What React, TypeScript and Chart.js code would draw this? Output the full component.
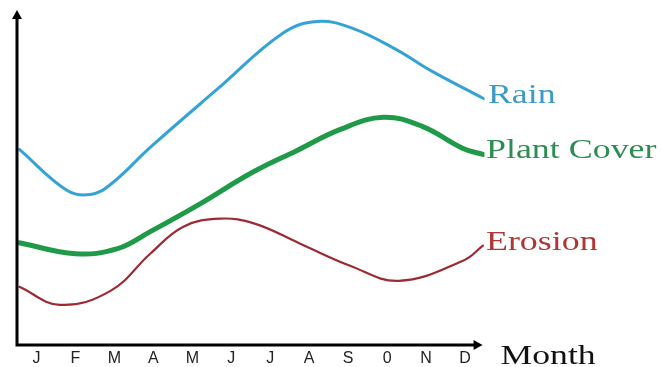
import React, { useEffect, useRef } from "react";
import { Chart, registerables } from "chart.js";

Chart.register(...registerables);

const months = ["J", "F", "M", "A", "M", "J", "J", "A", "S", "0", "N", "D"];

const rainX = [-0.44, 0.79, 1.38, 1.9, 2.92, 4.64, 6.33, 7.2, 8.1, 9.26, 10.1, 11.51];
const rainY = [195, 154, 150, 160, 197, 255, 311, 322.5, 316, 294, 274, 245];

const plantX = [-0.44, 1.0, 2.08, 2.92, 4.21, 5.49, 6.69, 7.8, 8.9, 9.9, 10.95, 11.46];
const plantY = [102, 91, 96, 113, 141, 171, 194, 215, 227, 218, 196, 190];

const erosionX = [-0.44, 0.6, 1.9, 2.92, 3.77, 4.72, 5.6, 6.77, 8.05, 9.3, 10.95, 11.46];
const erosionY = [58, 40, 54, 91, 118, 126, 121, 101, 79, 64, 84, 99];

const seriesNames = ["Rain", "Plant Cover", "Erosion"];
const lineColors = ["#35a3d5", "#1f9a48", "#9e2a33"];
const textColors = ["#3d9bca", "#2f8c52", "#b03636"];
const lineWidths = [3, 5, 2.2];

const toPts = (xs: number[], ys: number[]) => xs.map((x, i) => ({ x, y: ys[i] }));

const axesPlugin = {
  id: "axesArrows",
  afterDraw(chart: any) {
    const { ctx, chartArea } = chart;
    const xs = chart.scales.x;
    const left = xs.getPixelForValue(-0.5);
    const right = xs.getPixelForValue(11.45);
    const bottom = chartArea.bottom;
    const top = chartArea.top;
    ctx.save();
    ctx.strokeStyle = "#000";
    ctx.fillStyle = "#000";
    ctx.lineWidth = 3;
    ctx.beginPath();
    ctx.moveTo(left, bottom + 1.5);
    ctx.lineTo(left, top + 6);
    ctx.moveTo(left - 1.5, bottom);
    ctx.lineTo(right - 6, bottom);
    ctx.stroke();
    ctx.beginPath();
    ctx.moveTo(left, top);
    ctx.lineTo(left - 5, top + 9);
    ctx.lineTo(left + 5, top + 9);
    ctx.closePath();
    ctx.fill();
    ctx.beginPath();
    ctx.moveTo(right, bottom);
    ctx.lineTo(right - 9, bottom - 5);
    ctx.lineTo(right - 9, bottom + 5);
    ctx.closePath();
    ctx.fill();

    chart.data.datasets.forEach((ds: any, i: number) => {
      const meta = chart.getDatasetMeta(i);
      const last = meta.data[meta.data.length - 1];
      ctx.save();
      ctx.translate(last.x + 3, last.y + 4);
      ctx.scale(1.33, 1);
      ctx.font = "27px 'Liberation Serif', 'Times New Roman', serif";
      ctx.fillStyle = textColors[i];
      ctx.textBaseline = "alphabetic";
      ctx.textAlign = "left";
      ctx.fillText(ds.label, 0, 0);
      ctx.restore();
    });

    ctx.save();
    ctx.translate(right + 18, bottom + 19);
    ctx.scale(1.32, 1);
    ctx.font = "27px 'Liberation Serif', 'Times New Roman', serif";
    ctx.fillStyle = "#111";
    ctx.textBaseline = "alphabetic";
    ctx.fillText("Month", 0, 0);
    ctx.restore();
    ctx.restore();
  },
};

export default function App() {
  const ref = useRef<HTMLCanvasElement | null>(null);
  useEffect(() => {
    if (!ref.current) return;
    const xsList = [rainX, plantX, erosionX];
    const ysList = [rainY, plantY, erosionY];
    const chart = new Chart(ref.current, {
      type: "line",
      data: {
        datasets: seriesNames.map((name, i) => ({
          label: name,
          data: toPts(xsList[i], ysList[i]),
          borderColor: lineColors[i],
          borderWidth: lineWidths[i],
          pointRadius: 0,
          fill: false,
          tension: 0.4,
          borderCapStyle: "round" as const,
        })),
      },
      options: {
        responsive: false,
        animation: false,
        layout: { padding: { left: 17, right: 177.5, top: 10, bottom: -6 } },
        plugins: { legend: { display: false }, tooltip: { enabled: false } },
        scales: {
          x: {
            type: "linear",
            min: -0.5,
            max: 11.5,
            grid: { display: false, drawTicks: false },
            border: { display: false },
            afterBuildTicks: (scale: any) => {
              scale.ticks = months.map((_, i) => ({ value: i }));
            },
            ticks: {
              autoSkip: false,
              maxRotation: 0,
              padding: 6,
              color: "#222",
              font: { family: "'Liberation Sans', Arial, sans-serif", size: 16, lineHeight: 1 },
              callback: (v: any) => months[Math.round(Number(v))] ?? "",
            },
          },
          y: {
            type: "linear",
            min: 0,
            max: 334,
            display: false,
          },
        },
      },
      plugins: [axesPlugin],
    });
    return () => chart.destroy();
  }, []);
  return (
    <div style={{ position: "fixed", left: 0, top: 0, width: 662, height: 367, background: "#fff" }}>
      <canvas ref={ref} width={662} height={367} style={{ width: 662, height: 367, display: "block" }} />
    </div>
  );
}
